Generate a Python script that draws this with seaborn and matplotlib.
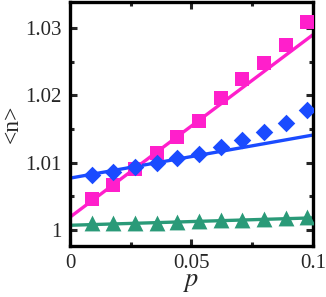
import matplotlib
matplotlib.use("Agg")
import matplotlib.pyplot as plt
import seaborn as sns
import pandas as pd
from matplotlib.ticker import MultipleLocator, FixedLocator

# ---- data ----
p_vals = [0.009, 0.0177, 0.0267, 0.0358, 0.0442, 0.0531, 0.0621, 0.0708, 0.0798, 0.0887, 0.0975]
pink_pts = [1.00460, 1.00668, 1.00906, 1.01144, 1.01381, 1.01619, 1.01960, 1.02243, 1.02480, 1.02748, 1.03089]
blue_pts = [1.00817, 1.00861, 1.00936, 1.00995, 1.01069, 1.01121, 1.01233, 1.01337, 1.01455, 1.01589, 1.01782]
green_pts = [1.0010, 1.0010, 1.0011, 1.0011, 1.0012, 1.0013, 1.0015, 1.0015, 1.0016, 1.0018, 1.0020]

line_x = [0.0, 0.1]
pink_line = [1.0019, 1.0290]
blue_line = [1.0077, 1.0141]
green_line = [1.0007, 1.0018]

x_ticks = [0, 0.05, 0.1]
x_ticklabels = ["0", "0.05", "0.1"]
y_ticks = [1.0, 1.01, 1.02, 1.03]
y_ticklabels = ["1", "1.01", "1.02", "1.03"]

PINK = "#FF1FCB"
BLUE = "#1A4BFF"
GREEN = "#2A9A78"

sns.set_style("ticks")
plt.rcParams["font.family"] = ["Liberation Serif", "DejaVu Serif"]
plt.rcParams["mathtext.fontset"] = "stix"

fig = plt.figure(figsize=(3.26, 2.97), dpi=100)
ax = fig.add_axes([0.2147, 0.1717, 0.7453, 0.8216])

lines_df = pd.DataFrame({"p": line_x * 3,
                         "n": pink_line + blue_line + green_line,
                         "s": ["pink"] * 2 + ["blue"] * 2 + ["green"] * 2})
pts_df = pd.DataFrame({"p": p_vals * 3,
                       "n": pink_pts + blue_pts + green_pts,
                       "s": ["pink"] * len(p_vals) + ["blue"] * len(p_vals) + ["green"] * len(p_vals)})
pal = {"pink": PINK, "blue": BLUE, "green": GREEN}

sns.lineplot(data=lines_df, x="p", y="n", hue="s", palette=pal, lw=2.4,
             legend=False, ax=ax, zorder=2)
sns.scatterplot(data=pts_df[pts_df.s == "pink"], x="p", y="n", color=PINK, marker="s",
                s=100, linewidth=0, ax=ax, zorder=3, legend=False)
sns.scatterplot(data=pts_df[pts_df.s == "blue"], x="p", y="n", color=BLUE, marker="D",
                s=80, linewidth=0, ax=ax, zorder=3, legend=False)
sns.scatterplot(data=pts_df[pts_df.s == "green"], x="p", y="n", color=GREEN, marker="^",
                s=130, linewidth=0, ax=ax, zorder=3, legend=False)

ax.set_xlim(0, 0.1)
ax.set_ylim(0.99762, 1.03386)
ax.xaxis.set_major_locator(FixedLocator(x_ticks))
ax.set_xticklabels(x_ticklabels)
ax.xaxis.set_minor_locator(MultipleLocator(0.025))
ax.yaxis.set_major_locator(FixedLocator(y_ticks))
ax.set_yticklabels(y_ticklabels)
ax.yaxis.set_minor_locator(MultipleLocator(0.005))

ax.tick_params(which="both", direction="in", top=True, right=True,
               width=2.2, labelsize=15, pad=6)
ax.tick_params(which="major", length=5)
ax.tick_params(which="minor", length=3)
for sp in ax.spines.values():
    sp.set_linewidth(2.4)
    sp.set_color("black")

ax.set_xlabel("$p$", fontsize=19, labelpad=-1)
ax.set_ylabel("<n>", fontsize=17, labelpad=2)

fig.savefig("out.png", dpi=100)
